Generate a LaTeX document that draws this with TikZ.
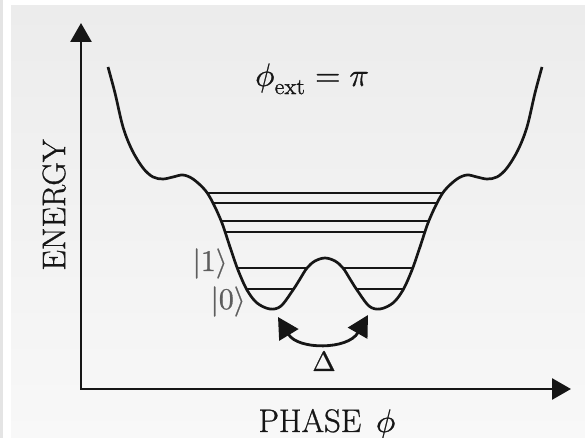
\documentclass[tikz,border=0pt]{standalone}
\usepackage{amsmath}
\usepackage{fontspec}
\usepackage{unicode-math}
\setmainfont{Latin Modern Roman}[FakeBold=0.8]
\setmathfont{Latin Modern Math}[FakeBold=0.8]
\usetikzlibrary{arrows.meta}
\definecolor{ink}{HTML}{161616}
\definecolor{ketgray}{HTML}{5E5E5E}
\definecolor{paneltop}{HTML}{ECECEC}
\definecolor{panelbot}{HTML}{F8F8F8}
\definecolor{edgegray}{HTML}{E4E4E4}
\begin{document}
\begin{tikzpicture}[x=0.5pt,y=-0.5pt,
  axes/.style={line width=1.4pt, draw=ink, {Triangle[length=9.5pt,width=10.5pt]}-{Triangle[length=9.5pt,width=10.5pt]}},
  pot/.style={line width=1.35pt, draw=ink, line join=round},
  level/.style={line width=1.1pt, draw=ink},
  lbl/.style={text=ink, font=\fontsize{16.3}{19}\selectfont, inner sep=0pt},
  small/.style={text=ink, font=\fontsize{14}{17}\selectfont, inner sep=0pt},
  ket/.style={text=ketgray, font=\fontsize{15}{18}\selectfont, inner sep=0pt},
  tunnel/.style={line width=1.4pt, draw=ink, {Triangle[length=10.5pt,width=11pt]}-{Triangle[length=10.5pt,width=11pt]}}
]
\useasboundingbox (0,0) rectangle (585,438);
\fill[white] (0,0) rectangle (585,438);
\fill[edgegray] (0,0) rectangle (3,438);
\shade[top color=paneltop, bottom color=panelbot] (11,6) rectangle (585,438);

% energy levels clipped to the inside of the well
\begin{scope}
\clip plot[smooth,tension=0.55] coordinates {
 (108,67) (115,93) (123,127) (132,150) (143,168) (153,177) (163,179) (173,177)
 (183,175) (193,179) (205,190) (213,203) (222,223) (230,247) (238,270) (247,290)
 (257,303) (270,309) (281,306) (293,290) (300,279) (307,268) (315,261) (325,258)
 (335,261) (343,268) (350,279) (357,290) (369,306) (380,309) (393,303) (403,290) (412,270)
 (420,247) (428,223) (437,203) (445,190) (457,179) (467,175) (477,177) (487,179)
 (497,177) (507,168) (518,150) (527,127) (535,93) (542,67)}
 -- (542,40) -- (108,40) -- cycle;
\foreach \yy in {193,203,221,232,268,289}
  \draw[level] (100,\yy) -- (550,\yy);
\end{scope}

% potential
\draw[pot] plot[smooth,tension=0.55] coordinates {
 (108,67) (115,93) (123,127) (132,150) (143,168) (153,177) (163,179) (173,177)
 (183,175) (193,179) (205,190) (213,203) (222,223) (230,247) (238,270) (247,290)
 (257,303) (270,309) (281,306) (293,290) (300,279) (307,268) (315,261) (325,258)
 (335,261) (343,268) (350,279) (357,290) (369,306) (380,309) (393,303) (403,290) (412,270)
 (420,247) (428,223) (437,203) (445,190) (457,179) (467,175) (477,177) (487,179)
 (497,177) (507,168) (518,150) (527,127) (535,93) (542,67)};

% axes
\coordinate (O) at (81,389);
\coordinate (ytop) at (81,23);
\coordinate (xend) at (571,389);
\draw[axes] (ytop) -- (O) -- (xend);

% tunnelling arrow
\coordinate (tunL) at (278,317);
\coordinate (tunR) at (368,315);
\draw[tunnel] (tunL) .. controls (298,350) and (348,350) .. (tunR);

% labels
\node[lbl, anchor=base] (title) at (312,86) {$\phi_{\text{ext}} = \pi$};
\node[lbl, anchor=base] (xlab) at (327,432) {PHASE\hspace{0.45em}$\phi$};
\node[lbl, rotate=90] (ylab) at (54,205) {ENERGY};
\node[small, anchor=base] (delta) at (324,371) {$\Delta$};
\node[ket, anchor=base] (k1) at (210,271) {$|1\rangle$};
\node[ket, anchor=base] (k0) at (228,309) {$|0\rangle$};
\end{tikzpicture}
\end{document}
